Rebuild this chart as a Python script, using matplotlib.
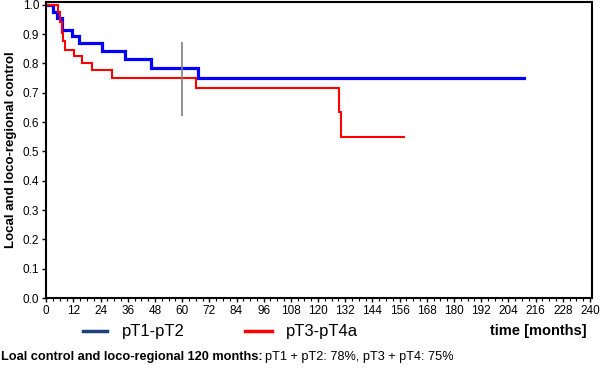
import matplotlib.pyplot as plt
from matplotlib.ticker import MultipleLocator
import numpy as np

plt.rcParams['font.family'] = ['Liberation Sans', 'DejaVu Sans']

# Kaplan-Meier style step data (months, proportion)
blue_time = [0, 3.2, 4.7, 6.9, 11.4, 14.6, 24.6, 34.9, 46.4, 66.9, 210.8]
blue_surv = [1.0, 0.977, 0.955, 0.915, 0.892, 0.869, 0.844, 0.815, 0.786, 0.752, 0.752]

red_time = [0, 5.4, 6.2, 6.9, 7.6, 8.4, 12.1, 15.8, 20.2, 29.0, 66.3, 129.4, 130.0, 158.0]
red_surv = [1.0, 0.977, 0.94, 0.905, 0.875, 0.846, 0.824, 0.800, 0.778, 0.752, 0.715, 0.636, 0.548, 0.548]

marker_month = 60
marker_range = (0.62, 0.873)

x_ticks = list(range(0, 241, 12))
y_ticks = [round(v, 1) for v in np.arange(0, 1.01, 0.1)]

fig = plt.figure(figsize=(6, 3.68), dpi=100)
ax = fig.add_axes([0.077, 0.19, 0.91, 0.805])

ax.step(blue_time, blue_surv, where='post', color='#0000ff', lw=2.3, solid_joinstyle='miter')
ax.step(red_time, red_surv, where='post', color='#ff0000', lw=1.5, solid_joinstyle='miter')
ax.vlines(marker_month, marker_range[0], marker_range[1], color='#7f7f7f', lw=1.2)

ax.set_xlim(0, 241)
ax.set_ylim(0, 1.01)
ax.set_xticks(x_ticks)
ax.set_yticks(y_ticks)
ax.set_yticklabels([f"{v:.1f}" for v in y_ticks])
ax.xaxis.set_minor_locator(MultipleLocator(3))
ax.tick_params(axis='both', which='major', labelsize=8.5, length=3, width=1, pad=2)
ax.tick_params(axis='x', which='minor', length=1.8, width=0.8)
for s in ax.spines.values():
    s.set_linewidth(1.5)

ax.set_ylabel("Local and loco-regional control", fontsize=9.5, fontweight='bold', labelpad=4)

# legend row below axes
fig.lines.append(plt.Line2D([0.138, 0.178], [0.1, 0.1], transform=fig.transFigure, color='#1f3f7f', lw=2.5))
fig.text(0.203, 0.1, "pT1-pT2", fontsize=12, va='center')
fig.lines.append(plt.Line2D([0.408, 0.453], [0.1, 0.1], transform=fig.transFigure, color='#ff0000', lw=2.5))
fig.text(0.477, 0.1, "pT3-pT4a", fontsize=12, va='center')
fig.text(0.978, 0.1, "time [months]", fontsize=10.5, fontweight='bold', ha='right', va='center')

narrow = ['Liberation Sans Narrow', 'Liberation Sans', 'DejaVu Sans']
t1 = fig.text(0.002, 0.03, "Loal control and loco-regional 120 months:", fontsize=9.2,
              fontweight='bold', family=narrow, va='center')
fig.canvas.draw()
bb = t1.get_window_extent()
fig.text(bb.x1 / fig.bbox.width + 0.004, 0.03, "pT1 + pT2: 78%, pT3 + pT4: 75%", fontsize=9.2,
         family=narrow, va='center')

fig.savefig("out.png", dpi=100)
